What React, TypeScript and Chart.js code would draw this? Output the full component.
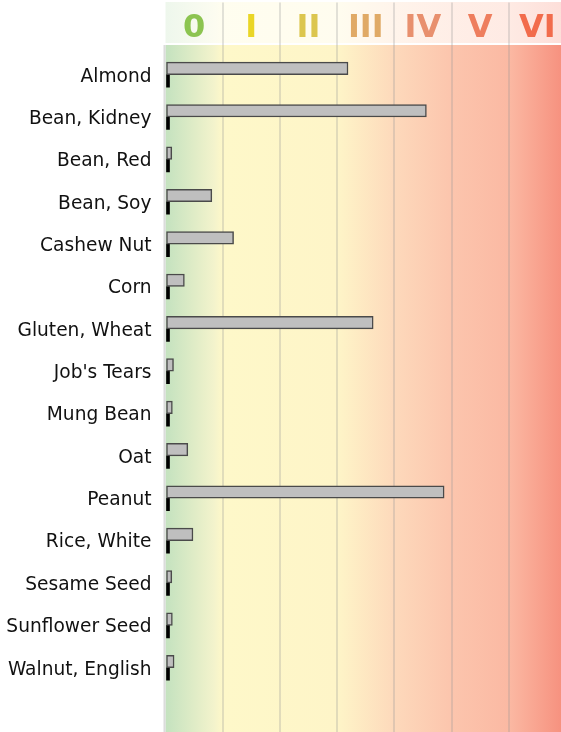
import React, { useEffect, useRef } from "react";
import { Chart, registerables } from "chart.js";

Chart.register(...registerables);

const CATEGORIES = [
  "Almond",
  "Bean, Kidney",
  "Bean, Red",
  "Bean, Soy",
  "Cashew Nut",
  "Corn",
  "Gluten, Wheat",
  "Job's Tears",
  "Mung Bean",
  "Oat",
  "Peanut",
  "Rice, White",
  "Sesame Seed",
  "Sunflower Seed",
  "Walnut, English",
];

const LEVEL_VALUES = [3.19, 4.56, 0.11, 0.81, 1.19, 0.33, 3.63, 0.14, 0.12, 0.39, 4.87, 0.48, 0.11, 0.12, 0.15];
const MARKER_VALUES = [0.07, 0.07, 0.07, 0.07, 0.07, 0.07, 0.07, 0.07, 0.07, 0.07, 0.07, 0.07, 0.07, 0.07, 0.07];

const CLASS_LABELS = ["0", "I", "II", "III", "IV", "V", "VI"];
const CLASS_COLORS = ["#8cc450", "#ead626", "#dcc64e", "#e0aa66", "#e8906e", "#ee7e5e", "#f26c4c"];
const CLASS_BOUNDS = [0, 1, 2, 3, 4, 5, 6, 7];

const GRADIENT_STOPS: [number, string][] = [
  [0, "#c4e2bf"],
  [0.85, "#f3f3cc"],
  [1.0, "#fef8c9"],
  [3.0, "#fef5c8"],
  [4.0, "#fdd9bb"],
  [5.0, "#fcc5ad"],
  [6.0, "#fbb9a3"],
  [7.0, "#f68e7c"],
];

const GRID_COLOR = "rgba(150,150,150,0.28)";

const backgroundPlugin = {
  id: "bands",
  beforeDraw(chart: any) {
    const { ctx, chartArea } = chart;
    const xs = chart.scales.x;
    const x0 = xs.getPixelForValue(0);
    const x7 = xs.getPixelForValue(7);
    const grad = ctx.createLinearGradient(x0, 0, x7, 0);
    GRADIENT_STOPS.forEach(([v, c]) => grad.addColorStop(v / 7, c));
    const H = chart.height;
    ctx.save();
    ctx.fillStyle = grad;
    ctx.globalAlpha = 0.3;
    ctx.fillRect(chartArea.left, 2, chartArea.right - chartArea.left, 41);
    ctx.globalAlpha = 1;
    ctx.fillRect(chartArea.left, 45, chartArea.right - chartArea.left, H - 45);
    ctx.fillStyle = "#dcdcdc";
    ctx.fillRect(chartArea.left - 2, 45, 2, H - 45);
    ctx.restore();
  },
  beforeDatasetsDraw(chart: any) {
    const { ctx, chartArea } = chart;
    const xs = chart.scales.x;
    const H = chart.height;
    ctx.save();
    ctx.strokeStyle = GRID_COLOR;
    ctx.lineWidth = 2;
    CLASS_BOUNDS.slice(1, -1).forEach((v) => {
      const px = Math.round(xs.getPixelForValue(v));
      ctx.beginPath();
      ctx.moveTo(px, chartArea.bottom);
      ctx.lineTo(px, H);
      ctx.stroke();
    });
    ctx.restore();
  },
};

export default function App() {
  const ref = useRef<HTMLCanvasElement | null>(null);

  useEffect(() => {
    document.body.style.margin = "0";
    document.documentElement.style.overflow = "hidden";
    const canvas = ref.current!;
    const chart = new Chart(canvas, {
      type: "bar",
      data: {
        labels: CATEGORIES,
        datasets: [
          {
            data: LEVEL_VALUES,
            backgroundColor: "#bfbfbf",
            borderColor: "#4a4a4a",
            borderWidth: 1.5,
            borderSkipped: false,
            barThickness: 12.5,
          },
          {
            data: MARKER_VALUES,
            backgroundColor: "#000000",
            borderWidth: 0,
            barThickness: 12.5,
          },
        ],
      },
      options: {
        indexAxis: "y",
        animation: false,
        responsive: false,
        layout: { padding: { top: 0, bottom: 43.1, left: 0, right: 0 } },
        plugins: { legend: { display: false }, tooltip: { enabled: false } },
        scales: {
          x: {
            position: "top",
            min: 0,
            max: 7,
            afterFit(scale: any) {
              scale.height = 53.5;
            },
            afterBuildTicks(scale: any) {
              scale.ticks = CLASS_BOUNDS.map((v) => ({ value: v }));
            },
            border: { display: false },
            grid: {
              drawOnChartArea: true,
              drawTicks: true,
              tickLength: 51,
              lineWidth: 2,
              color: (c: any) =>
                c.tick && (c.tick.value === 0 || c.tick.value === 7) ? "rgba(0,0,0,0)" : GRID_COLOR,
            },
            ticks: {
              autoSkip: false,
              maxRotation: 0,
              padding: -45.5,
              labelOffset: 28.6,
              font: { family: "DejaVu Sans", size: 32, weight: "bold" },
              color: (c: any) => CLASS_COLORS[c.index] || "#000",
              callback: (v: any) => CLASS_LABELS[v as number] ?? "",
            },
          },
          y: {
            afterFit(scale: any) {
              scale.width = 165.5;
            },
            border: { display: false },
            grid: { display: false, drawTicks: false },
            ticks: {
              padding: 14,
              labelOffset: 2,
              color: "#111111",
              font: { family: "DejaVu Sans", size: 18.6 },
            },
          },
        },
      },
      plugins: [backgroundPlugin],
    } as any);
    return () => chart.destroy();
  }, []);

  return (
    <div style={{ width: 566, height: 732 }}>
      <canvas ref={ref} width={566} height={732} style={{ display: "block" }} />
    </div>
  );
}
